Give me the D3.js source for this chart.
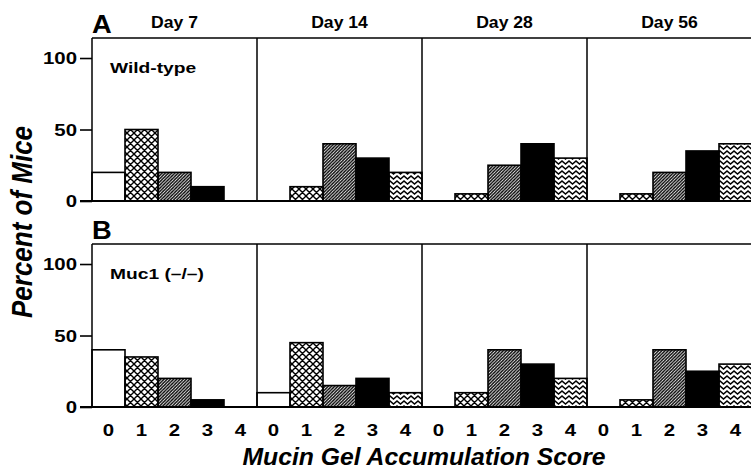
<!DOCTYPE html>
<html>
<head>
<meta charset="utf-8">
<script src="https://cdn.jsdelivr.net/npm/d3@7"></script>
<style>
  body { margin: 0; background: #fff; }
  svg text { font-family: "Liberation Sans", Arial, Helvetica, sans-serif; font-weight: bold; fill: #000; }
</style>
</head>
<body>
<svg id="chart" width="751" height="472"></svg>
<script>
// data (percent of mice per score)
var days = ["Day 7", "Day 14", "Day 28", "Day 56"];
var scores = ["0", "1", "2", "3", "4"];
var yTicks = [0, 50, 100];

var wildType = [
  [20, 50, 20, 10, 0],
  [0, 10, 40, 30, 20],
  [0, 5, 25, 40, 30],
  [0, 5, 20, 35, 40]
];
var muc1 = [
  [40, 35, 20, 5, 0],
  [10, 45, 15, 20, 10],
  [0, 10, 40, 30, 20],
  [0, 5, 40, 25, 30]
];
var panels = [
  { letter: "A", name: "Wild-type", values: wildType, top: 38 },
  { letter: "B", name: "Muc1 (\u2013/\u2013)", values: muc1, top: 244 }
];

var svg = d3.select("#chart");
var left = 92, panelW = 165, plotH = 163;

// the scanned figure has wide lettering, so text is stretched sideways
var label = function(x, y, txt, size, sx, anchor) {
  return svg.append("text")
    .attr("transform", "translate(" + x + "," + y + ") scale(" + sx + ",1)")
    .attr("text-anchor", anchor || "start")
    .style("font-size", size + "px")
    .text(txt);
};

// fill patterns, one per score
var defs = svg.append("defs");
var cross = defs.append("pattern").attr("id", "p1").attr("patternUnits", "userSpaceOnUse")
  .attr("width", 7).attr("height", 7);
cross.append("path").attr("d", "M0,0L7,7M7,0L0,7M-1,6L1,8M6,-1L8,1M-1,1L1,-1M6,8L8,6")
  .attr("stroke", "#000").attr("stroke-width", 1.4);

var hatch = defs.append("pattern").attr("id", "p2").attr("patternUnits", "userSpaceOnUse")
  .attr("width", 3.2).attr("height", 3.2);
hatch.append("path").attr("d", "M-1,4.2L4.2,-1M-1,1L1,-1M2.2,4.2L4.2,2.2")
  .attr("stroke", "#000").attr("stroke-width", 1.4);

var wave = defs.append("pattern").attr("id", "p4").attr("patternUnits", "userSpaceOnUse")
  .attr("width", 7).attr("height", 5);
wave.append("path").attr("d", "M-3.5,4L0,1L3.5,4L7,1L10.5,4")
  .attr("stroke", "#000").attr("stroke-width", 1.5).attr("fill", "none");

var fills = ["#fff", "url(#p1)", "url(#p2)", "#000", "url(#p4)"];

var x0 = d3.scaleBand().domain(days).range([left, left + panelW * days.length]);
var x1 = d3.scaleBand().domain(scores).range([0, panelW]);

panels.forEach(function(p) {
  var y = d3.scaleLinear().domain([0, 114]).range([p.top + plotH, p.top]);
  var g = svg.append("g");

  // bars
  days.forEach(function(day, di) {
    var dg = g.append("g").attr("transform", "translate(" + x0(day) + ",0)");
    dg.selectAll("rect")
      .data(p.values[di].map(function(v, i) { return { s: scores[i], v: v }; }).filter(function(d) { return d.v > 0; }))
      .enter().append("rect")
      .attr("x", function(d) { return x1(d.s); })
      .attr("y", function(d) { return y(d.v); })
      .attr("width", x1.bandwidth())
      .attr("height", function(d) { return y(0) - y(d.v); })
      .attr("fill", function(d) { return fills[+d.s]; })
      .attr("stroke", "#000").attr("stroke-width", 1.6);
  });

  // frame: top line, panel dividers
  g.append("line").attr("x1", left).attr("x2", 751).attr("y1", p.top).attr("y2", p.top)
    .attr("stroke", "#000").attr("stroke-width", 1.5);
  days.forEach(function(day) {
    g.append("line").attr("x1", x0(day)).attr("x2", x0(day)).attr("y1", p.top).attr("y2", y(0))
      .attr("stroke", "#000").attr("stroke-width", 1.5);
  });
  // baseline
  g.append("line").attr("x1", left - 12).attr("x2", 751).attr("y1", y(0)).attr("y2", y(0))
    .attr("stroke", "#000").attr("stroke-width", 1.8);

  // y axis
  var yAxis = d3.axisLeft(y).tickValues(yTicks).tickSize(12).tickFormat("");
  var ya = svg.append("g").attr("transform", "translate(" + left + ",0)").call(yAxis);
  ya.select(".domain").remove();
  ya.selectAll(".tick line").attr("stroke-width", 1.6);
  yTicks.forEach(function(t) {
    label(left - 15, y(t) + 6, t, 17, 1.2, "end");
  });

  label(left, p.top - 5, p.letter, 26, 1.05);
  label(left + 18, p.top + 35, p.name, 15, 1.28);
});

// day titles
days.forEach(function(day) {
  label(x0(day) + panelW / 2, 28, day, 16, 1.1, "middle");
});

// x tick labels
days.forEach(function(day) {
  scores.forEach(function(s) {
    label(x0(day) + x1(s) + x1.bandwidth() / 2, 436, s, 17, 1.2, "middle");
  });
});

// axis titles
label(424, 465, "Mucin Gel Accumulation Score", 24, 1.03, "middle").style("font-style", "italic");
svg.append("text").attr("transform", "translate(32,222) scale(1.15,1) rotate(-90)").attr("text-anchor", "middle")
  .style("font-size", "26px").style("font-style", "italic").text("Percent of Mice");
</script>
</body>
</html>
